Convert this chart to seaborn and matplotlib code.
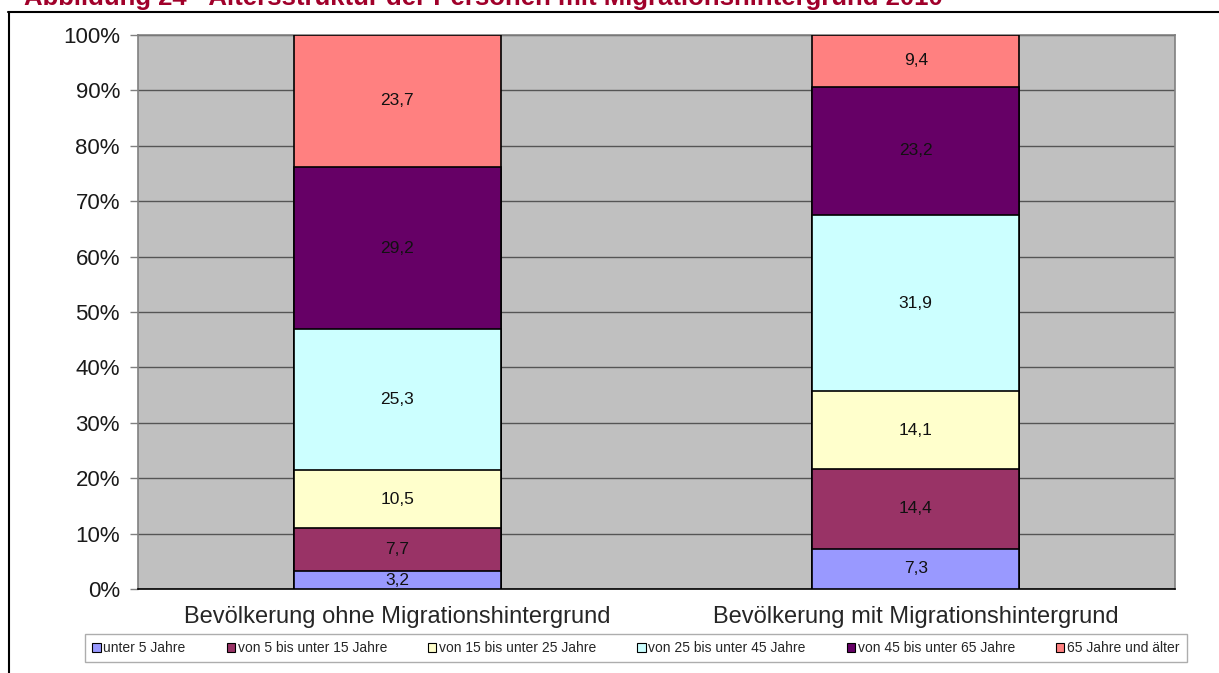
import numpy as np
import pandas as pd
import seaborn as sns
import matplotlib.pyplot as plt
from matplotlib.patches import Patch
from matplotlib.lines import Line2D

groups = ['Bevölkerung ohne Migrationshintergrund', 'Bevölkerung mit Migrationshintergrund']
age_classes = ['unter 5 Jahre', 'von 5 bis unter 15 Jahre', 'von 15 bis unter 25 Jahre',
               'von 25 bis unter 45 Jahre', 'von 45 bis unter 65 Jahre', '65 Jahre und älter']
ohne = [3.2, 7.7, 10.5, 25.3, 29.2, 23.7]
mit = [7.3, 14.4, 14.1, 31.9, 23.2, 9.4]
colors = ['#9999FF', '#993366', '#FFFFCC', '#CCFFFF', '#660066', '#FF8080']

df = pd.DataFrame({groups[0]: ohne, groups[1]: mit}, index=age_classes)
share = df / df.sum() * 100
cum = share.cumsum()

sns.set_style('white')
plt.rcParams['font.family'] = ['Liberation Sans', 'DejaVu Sans']

fig = plt.figure(figsize=(12.19, 6.73), dpi=100)
ax = fig.add_axes([138 / 1219, 1 - 589 / 673, 1037 / 1219, 554 / 673])
ax.set_facecolor('#C0C0C0')

# stacked bars: draw cumulative totals from the top down
for i in reversed(range(len(age_classes))):
    d = pd.DataFrame({'group': groups, 'value': cum.iloc[i].values})
    sns.barplot(data=d, x='group', y='value', color=colors[i], width=0.4,
                edgecolor='black', linewidth=1.2, saturation=1, ax=ax, zorder=3)

for j, g in enumerate(groups):
    for i in range(len(age_classes)):
        mid = cum.iloc[i][g] - share.iloc[i][g] / 2
        ax.text(j, mid, f'{df.iloc[i][g]:.1f}'.replace('.', ','), ha='center', va='center',
                fontsize=12.5, color='#111111', zorder=5)

ax.set_ylim(0, 100)
ax.set_xlim(-0.5, 1.5)
ax.set_yticks(np.arange(0, 101, 10))
ax.set_yticklabels([f'{v}%' for v in range(0, 101, 10)], fontsize=16, color='#1a1a1a')
ax.tick_params(axis='y', length=6, color='#808080', width=1, pad=7, left=True)
ax.tick_params(axis='x', length=0, pad=12, labelsize=17)
ax.set_xlabel('')
ax.set_ylabel('')
ax.grid(axis='y', color='#555555', linewidth=1, zorder=0)
ax.set_axisbelow(True)
for s in ['left', 'right', 'top']:
    ax.spines[s].set_color('#808080')
    ax.spines[s].set_linewidth(1.2)
ax.spines['bottom'].set_color('black')
ax.spines['bottom'].set_linewidth(1.2)

handles = [Patch(facecolor=c, edgecolor='black', linewidth=0.8) for c in colors]
leg = fig.legend(handles, age_classes, ncol=6, loc='center',
                 bbox_to_anchor=(636 / 1219, 1 - 648 / 673), fontsize=10,
                 frameon=True, fancybox=False, edgecolor='#999999',
                 handlelength=0.6, handleheight=0.6, handletextpad=0.2,
                 columnspacing=2.95, borderpad=0.5, borderaxespad=0)
leg.get_frame().set_linewidth(1)

# frame lines and cropped caption from the source page
fig.add_artist(Line2D([9 / 1219, 9 / 1219], [0, 1 - 12 / 673], color='black', linewidth=1.5))
fig.add_artist(Line2D([8 / 1219, 1], [1 - 12 / 673, 1 - 12 / 673], color='black', linewidth=1.5))
fig.text(24 / 1219, 1 - 5 / 673, 'Abbildung 24 - Altersstruktur der Personen mit Migrationshintergrund 2010',
         ha='left', va='baseline', fontsize=18.5, fontweight='bold', color='#A0002A')

fig.savefig('out.png', dpi=100)
